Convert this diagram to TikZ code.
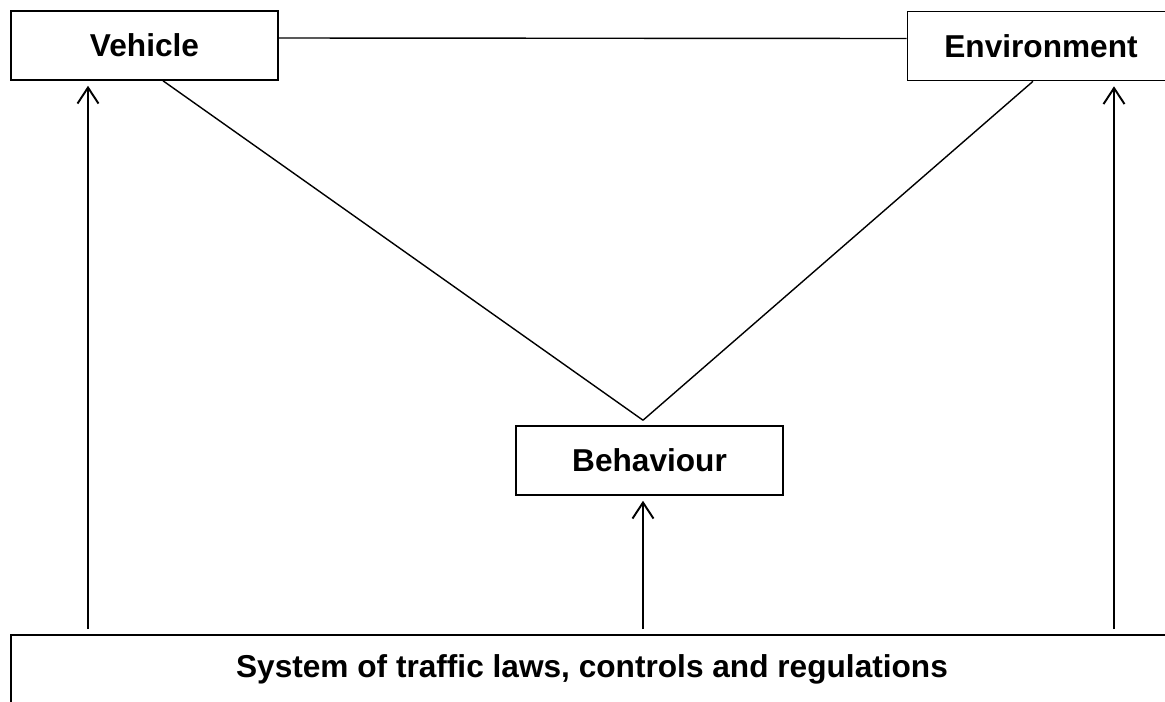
\documentclass[tikz,border=0pt]{standalone}
\usepackage{fontspec}
\setmainfont{Liberation Sans}
\usepackage{tikz}
\usetikzlibrary{arrows.meta,positioning,calc}

\begin{document}
\begin{tikzpicture}[
  box/.style={draw,line width=0.9pt,minimum width=5.34cm,minimum height=1.38cm,inner sep=0pt,align=center,font=\bfseries\fontsize{18}{21}\selectfont},
  link/.style={line width=0.8pt},
  up/.style={line width=1.1pt,-{Straight Barb[length=0.32cm,width=0.42cm,line width=1.1pt]},shorten <=0.1cm,shorten >=0.1cm}
]
  \useasboundingbox (0,0) rectangle (23.3,-14.02);
  \node[box] (veh) at (2.89,-0.91) {Vehicle};
  \node[box] (env) at (20.82,-0.92) {Environment};
  \node[box] (beh) at (12.99,-9.21) {Behaviour};
  \node[box,minimum width=23.24cm] (sys) at (11.84,-13.39) {System of traffic laws, controls and regulations};
  \coordinate (apex) at ([xshift=-0.13cm,yshift=0.1cm]beh.north);
  \coordinate (vl) at ([xshift=-1.13cm]veh.south);
  \coordinate (bl) at ([xshift=-0.13cm]beh.south);
  \coordinate (el) at ([xshift=1.46cm]env.south);
  \draw[link] ([yshift=0.15cm]veh.east) -- ([yshift=0.15cm]env.west);
  \draw[link] ([xshift=0.37cm]veh.south) -- (apex);
  \draw[link] ([xshift=-0.16cm]env.south) -- (apex);
  \draw[up] (vl |- sys.north) -- (vl);
  \draw[up] (bl |- sys.north) -- (bl);
  \draw[up] (el |- sys.north) -- (el);
\end{tikzpicture}
\end{document}
